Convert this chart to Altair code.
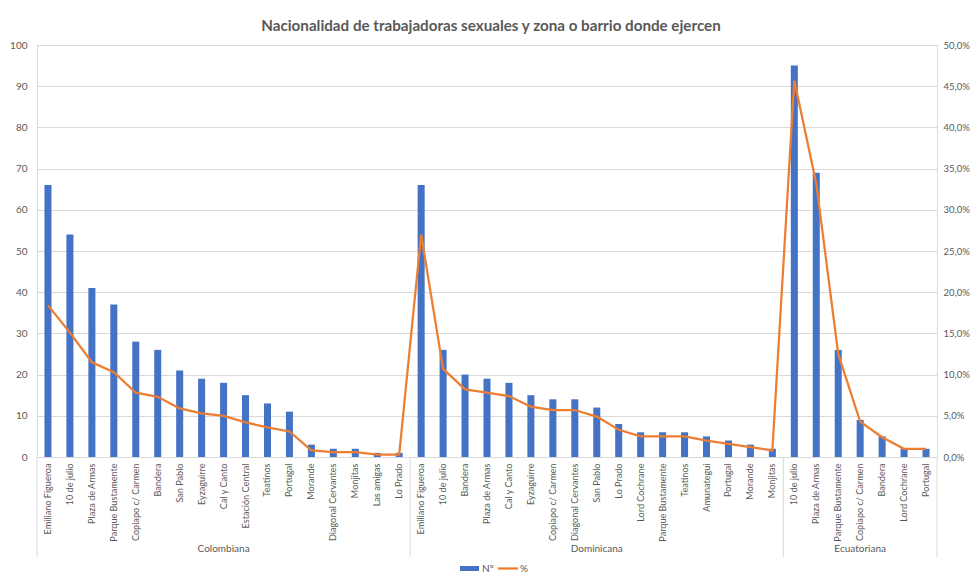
import altair as alt
import pandas as pd

groups = ["Colombiana", "Dominicana", "Ecuatoriana"]

col_names = ["Emiliano Figueroa", "10 de julio", "Plaza de Armas", "Parque Bustamente",
             "Copiapo c/ Carmen", "Bandera", "San Pablo", "Eyzaguirre", "Cal y Canto",
             "Estación Central", "Teatinos", "Portugal", "Morande", "Diagonal Cervantes",
             "Monjitas", "Las amigas", "Lo Prado"]
col_n = [66, 54, 41, 37, 28, 26, 21, 19, 18, 15, 13, 11, 3, 2, 2, 1, 1]
col_pct = [18.4, 15.1, 11.5, 10.3, 7.8, 7.3, 5.9, 5.3, 5.0, 4.2, 3.6, 3.1, 0.8, 0.6, 0.6, 0.3, 0.3]

dom_names = ["Emiliano Figueroa", "10 de julio", "Bandera", "Plaza de Armas", "Cal y Canto",
             "Eyzaguirre", "Copiapo c/ Carmen", "Diagonal Cervantes", "San Pablo", "Lo Prado",
             "Lord Cochrane", "Parque Bustamente", "Teatinos", "Amunategui", "Portugal",
             "Morande", "Monjitas"]
dom_n = [66, 26, 20, 19, 18, 15, 14, 14, 12, 8, 6, 6, 6, 5, 4, 3, 2]
dom_pct = [27.0, 10.7, 8.2, 7.8, 7.4, 6.1, 5.7, 5.7, 4.9, 3.3, 2.5, 2.5, 2.5, 2.0, 1.6, 1.2, 0.8]

ecu_names = ["10 de julio", "Plaza de Armas", "Parque Bustamente", "Copiapo c/ Carmen",
             "Bandera", "Lord Cochrane", "Portugal"]
ecu_n = [95, 69, 26, 9, 5, 2, 2]
ecu_pct = [45.7, 33.2, 12.5, 4.3, 2.4, 1.0, 1.0]

rows = []
firsts, mids = [], []
for g, names, ns, ps in [(groups[0], col_names, col_n, col_pct),
                         (groups[1], dom_names, dom_n, dom_pct),
                         (groups[2], ecu_names, ecu_n, ecu_pct)]:
    keys = [f"{g}|{nm}" for nm in names]
    firsts.append(keys[0])
    mids.append(keys[len(keys) // 2])
    for k, nm, n, p in zip(keys, names, ns, ps):
        rows.append({"key": k, "zona": nm, "grupo": g, "n": n, "pct": p / 100})
df = pd.DataFrame(rows)
order = list(df["key"])
last_key = order[-1]

grp_df = pd.DataFrame({"key": mids, "grupo": groups})
sep_df = pd.DataFrame({"key": firsts})
end_df = pd.DataFrame({"key": [last_key]})

W, H = 900, 412
C = W / 2
GRAY = "#595959"
FONT = "Lato"

xenc = alt.X("key:N", sort=order,
             scale=alt.Scale(paddingInner=0, paddingOuter=0),
             axis=alt.Axis(title=None, labelAngle=270,
                           labelExpr="substring(datum.value, indexof(datum.value, '|') + 1)",
                           domainColor="#d9d9d9", ticks=False, labelPadding=6,
                           labelFontSize=9.1, labelColor=GRAY, labelFont=FONT))

base = alt.Chart(df)

bars = base.mark_bar(color="#4472C4", width=alt.RelativeBandSize(0.32)).encode(
    x=xenc,
    y=alt.Y("n:Q", scale=alt.Scale(domain=[0, 100]),
            axis=alt.Axis(title=None, values=list(range(0, 101, 10)), domain=False, ticks=False,
                          labelPadding=10, labelColor=GRAY, labelFontSize=10, labelFont=FONT,
                          gridColor="#d9d9d9", grid=True)),
)

line = base.mark_line(color="#ED7D31", strokeWidth=2.25).encode(
    x=alt.X("key:N", sort=order),
    y=alt.Y("pct:Q", scale=alt.Scale(domain=[0, 0.5]),
            axis=alt.Axis(title=None, orient="right", values=[i * 0.05 for i in range(11)],
                          labelExpr="replace(format(datum.value, '.1%'), '.', ',')",
                          grid=False, domain=False, ticks=False, labelPadding=6,
                          labelColor=GRAY, labelFontSize=9.5, labelFont=FONT)),
)

seps = alt.Chart(sep_df).mark_rule(color="#d9d9d9", strokeWidth=1).encode(
    x=alt.X("key:N", sort=order, bandPosition=0),
    y=alt.value(H), y2=alt.value(H + 100),
)
endsep = alt.Chart(end_df).mark_rule(color="#d9d9d9", strokeWidth=1).encode(
    x=alt.X("key:N", sort=order, bandPosition=1),
    y=alt.value(H), y2=alt.value(H + 100),
)

grp_text = alt.Chart(grp_df).mark_text(fontSize=10, color=GRAY, font=FONT, baseline="middle").encode(
    x=alt.X("key:N", sort=order),
    y=alt.value(H + 92),
    text="grupo:N",
)

title_df = pd.DataFrame({"t": ["Nacionalidad de trabajadoras sexuales y zona o barrio donde ejercen"]})
title = alt.Chart(title_df).mark_text(fontSize=15.2, fontWeight="bold", color=GRAY, font=FONT,
                                      align="center", baseline="middle").encode(
    x=alt.value(C + 4), y=alt.value(-19), text="t:N")

leg_df = pd.DataFrame({"a": ["Nº"], "b": ["%"]})
leg_rect = alt.Chart(leg_df).mark_rect(color="#4472C4").encode(
    x=alt.value(C - 27), x2=alt.value(C - 8), y=alt.value(521), y2=alt.value(526))
leg_t1 = alt.Chart(leg_df).mark_text(fontSize=10, color=GRAY, font=FONT, align="left", baseline="middle").encode(
    x=alt.value(C - 5), y=alt.value(523.5), text="a:N")
leg_line = alt.Chart(leg_df).mark_rule(color="#ED7D31", strokeWidth=2.25).encode(
    x=alt.value(C + 11), x2=alt.value(C + 31), y=alt.value(523.5))
leg_t2 = alt.Chart(leg_df).mark_text(fontSize=10, color=GRAY, font=FONT, align="left", baseline="middle").encode(
    x=alt.value(C + 33), y=alt.value(523.5), text="b:N")

chart = alt.layer(bars, line, seps, endsep, grp_text, title, leg_rect, leg_t1, leg_line, leg_t2).resolve_scale(
    y="independent"
).properties(
    width=W, height=H,
    padding={"left": 29, "top": 37, "right": 34, "bottom": 117},
    autosize=alt.AutoSizeParams(type="none"),
).configure_view(stroke=None).configure(font=FONT)

chart.save("out.html", embed_options={"renderer": "svg", "actions": False})
